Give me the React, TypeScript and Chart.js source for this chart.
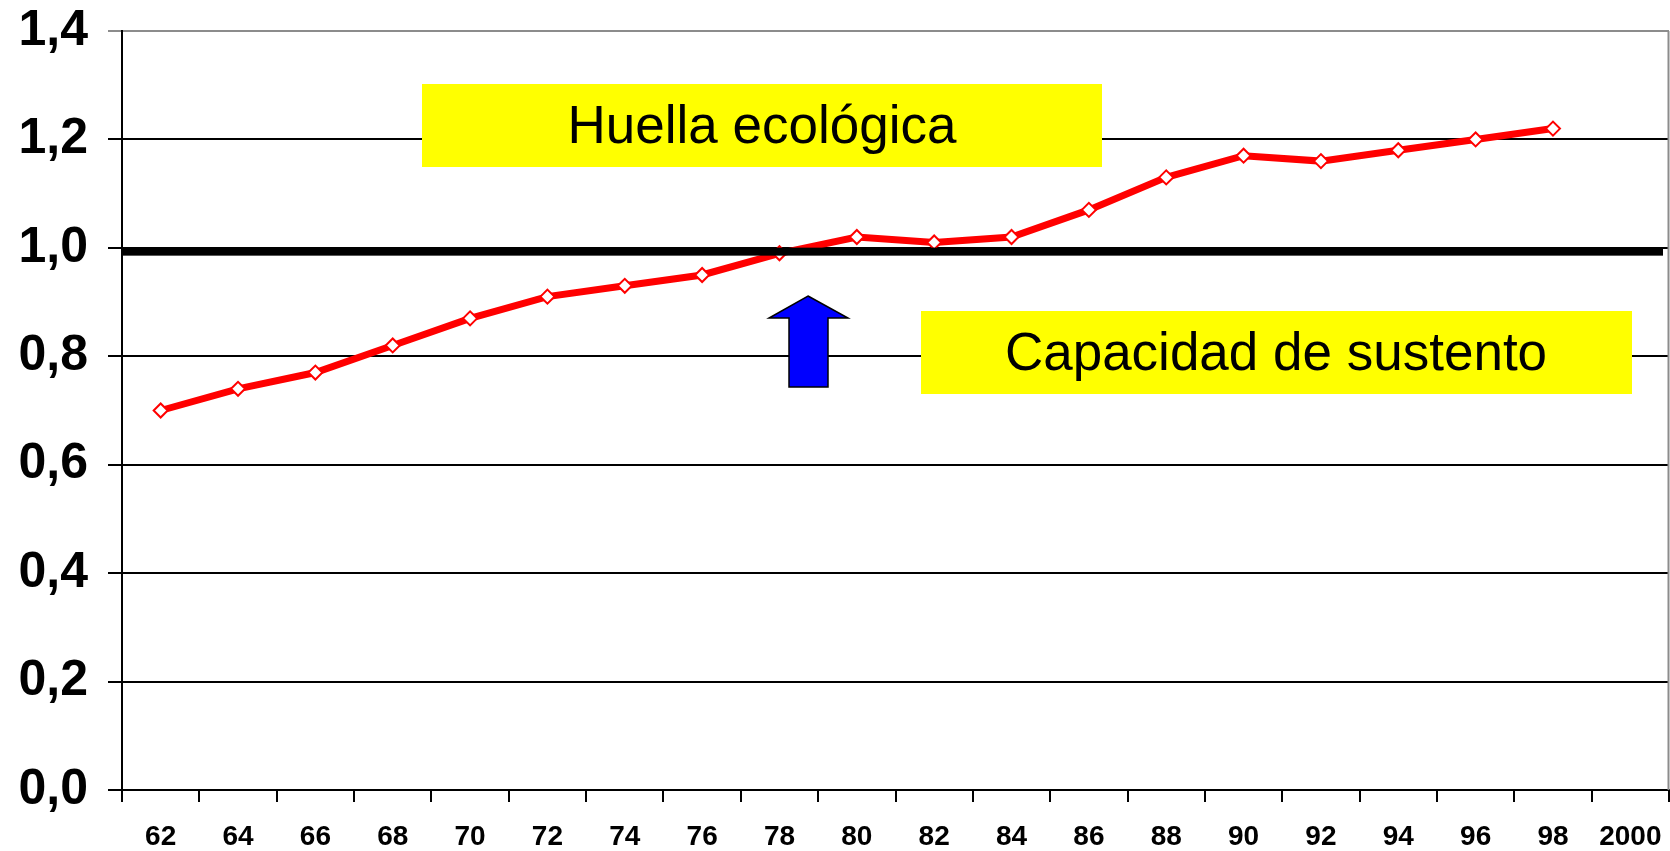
import React, { useEffect, useRef } from "react";
import { Chart, registerables } from "chart.js";

Chart.register(...registerables);

const years = ["62", "64", "66", "68", "70", "72", "74", "76", "78", "80", "82", "84", "86", "88", "90", "92", "94", "96", "98", "2000"];
const huella = [0.70, 0.74, 0.77, 0.82, 0.87, 0.91, 0.93, 0.95, 0.99, 1.02, 1.01, 1.02, 1.07, 1.13, 1.17, 1.16, 1.18, 1.20, 1.22, null];
const capacidad = 0.993;
const yTicks = [0, 0.2, 0.4, 0.6, 0.8, 1.0, 1.2, 1.4];
const labelHuella = "Huella ecológica";
const labelCapacidad = "Capacidad de sustento";

const FONT = "'Liberation Sans', Arial, sans-serif";

const annotations = {
  id: "annotations",
  afterDatasetsDraw(chart: any) {
    const ctx = chart.ctx;
    const area = chart.chartArea;
    const y = chart.scales.y;
    ctx.save();
    // capacity line
    const cy = y.getPixelForValue(capacidad);
    ctx.fillStyle = "#000";
    ctx.fillRect(area.left, cy - 4, area.right - area.left - 6, 8);
    // right border
    ctx.strokeStyle = "#8c8c8c";
    ctx.lineWidth = 2;
    ctx.beginPath();
    ctx.moveTo(area.right - 0.5, area.top);
    ctx.lineTo(area.right - 0.5, area.bottom);
    ctx.stroke();
    // yellow boxes
    ctx.fillStyle = "#ffff00";
    ctx.fillRect(422, 84, 680, 83);
    ctx.fillRect(921, 311, 711, 83);
    ctx.fillStyle = "#000";
    ctx.font = `53px ${FONT}`;
    ctx.textAlign = "center";
    ctx.textBaseline = "middle";
    ctx.fillText(labelHuella, 762, 128);
    ctx.fillText(labelCapacidad, 1276, 355);
    // arrow
    ctx.beginPath();
    ctx.moveTo(808, 296);
    ctx.lineTo(848, 318);
    ctx.lineTo(828, 318);
    ctx.lineTo(828, 387);
    ctx.lineTo(789, 387);
    ctx.lineTo(789, 318);
    ctx.lineTo(769, 318);
    ctx.closePath();
    ctx.fillStyle = "#0000ff";
    ctx.fill();
    ctx.strokeStyle = "#000";
    ctx.lineWidth = 1.5;
    ctx.stroke();
    ctx.restore();
  },
};

export default function App() {
  const ref = useRef<HTMLCanvasElement>(null);
  useEffect(() => {
    if (!ref.current) return;
    const chart = new Chart(ref.current, {
      type: "line",
      data: {
        labels: years,
        datasets: [
          {
            data: huella as any,
            borderColor: "#ff0000",
            borderWidth: 7,
            pointStyle: "rectRot",
            pointRadius: 7,
            pointBorderWidth: 2,
            pointBackgroundColor: "#ffffff",
            pointBorderColor: "#ff0000",
            tension: 0,
            spanGaps: false,
          },
        ],
      },
      options: {
        responsive: false,
        animation: false,
        layout: { autoPadding: false, padding: { top: 31, right: 1, left: 0, bottom: 0 } },
        plugins: { legend: { display: false }, tooltip: { enabled: false } },
        scales: {
          x: {
            type: "category",
            offset: true,
            grid: {
              offset: true,
              drawOnChartArea: false,
              drawTicks: true,
              tickLength: 12,
              color: "#000",
              lineWidth: 2,
            },
            border: { display: true, color: "#000", width: 2 },
            ticks: {
              color: "#000",
              font: { family: FONT, size: 28, weight: "bold", lineHeight: 2.5 },
              padding: 0,
              maxRotation: 0,
              autoSkip: false,
            },
            afterFit: (s: any) => {
              s.height = 61;
              s.paddingLeft = 0;
              s.paddingRight = 0;
            },
          },
          y: {
            min: 0,
            max: 1.4,
            afterBuildTicks: (s: any) => {
              s.ticks = yTicks.map((v) => ({ value: v }));
            },
            grid: {
              color: (c: any) => (c.tick && c.tick.value === 1.4 ? "#8c8c8c" : "#000"),
              lineWidth: 2,
              drawTicks: true,
              tickLength: 14,
            },
            border: { display: true, color: "#000", width: 2 },
            ticks: {
              color: "#000",
              font: { family: FONT, size: 50, weight: "bold" },
              padding: 20,
              callback: (v: any) => Number(v).toFixed(1).replace(".", ","),
            },
            afterFit: (s: any) => {
              s.width = 122;
              s.paddingTop = 0;
              s.paddingBottom = 0;
            },
          },
        },
      },
      plugins: [annotations],
    });
    return () => chart.destroy();
  }, []);
  return (
    <div style={{ position: "fixed", left: 0, top: 0, background: "#fff" }}>
      <canvas ref={ref} width={1670} height={851} style={{ display: "block" }} />
    </div>
  );
}
